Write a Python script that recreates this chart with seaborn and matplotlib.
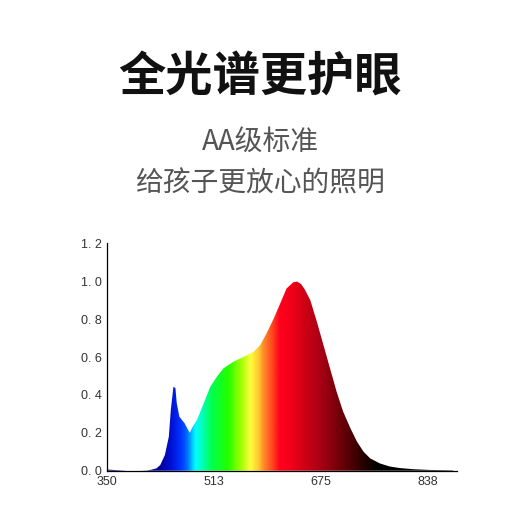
import numpy as np
import pandas as pd
import matplotlib
matplotlib.use("Agg")
import matplotlib.pyplot as plt
import seaborn as sns
from matplotlib.colors import LinearSegmentedColormap

# ---- data ----
wavelength = [350, 360, 370, 380, 400, 410, 416, 425, 431, 438, 444, 447, 451, 454, 456,
              460, 464, 468, 472, 476, 479, 487, 497, 507, 517, 527, 542, 557, 573,
              583, 593, 603, 613, 623, 633, 639, 645, 651, 659, 669, 679, 689, 699,
              709, 720, 730, 740, 750, 765, 780, 795, 815, 840, 876]
intensity = [0.006, 0.004, 0.002, 0.0, 0.0, 0.001, 0.004, 0.012, 0.03, 0.083, 0.18, 0.32,
             0.443, 0.436, 0.357, 0.285, 0.267, 0.25, 0.224, 0.2, 0.224, 0.27, 0.356,
             0.443, 0.496, 0.54, 0.575, 0.60, 0.628, 0.663, 0.728, 0.800, 0.880, 0.962,
             0.994, 0.998, 0.985, 0.954, 0.90, 0.786, 0.663, 0.54, 0.417, 0.311, 0.224,
             0.153, 0.10, 0.065, 0.038, 0.022, 0.014, 0.008, 0.004, 0.002]
x_ticks = [350, 513, 675, 838]
y_ticks = [0.0, 0.2, 0.4, 0.6, 0.8, 1.0, 1.2]
y_tick_labels = ["0. 0", "0. 2", "0. 4", "0. 6", "0. 8", "1. 0", "1. 2"]
title = "全光谱更护眼"
subtitle1 = "AA级标准"
subtitle2 = "给孩子更放心的照明"

# spectrum colour stops (wavelength, colour)
color_stops = [(350, "#00006e"), (431, "#0000a0"), (446, "#0010d0"), (461, "#0030ff"),
               (470, "#0064ff"), (484, "#00ffff"), (495, "#00ffb4"), (508, "#00ff50"),
               (533, "#20ff00"), (552, "#96ff00"), (568, "#ffff3c"), (580, "#ffc832"),
               (588, "#ff8c28"), (603, "#ff3c1e"), (613, "#ff001e"), (628, "#f5001c"),
               (648, "#d20014"), (674, "#aa0014"), (700, "#78000a"), (730, "#3c0000"),
               (745, "#1e0000"), (762, "#000000"), (882, "#000000")]

x_min, x_max = 350, 882
y_min, y_max = 0.0, 1.2

df = pd.DataFrame({"wavelength": wavelength, "intensity": intensity})

sns.set_theme(style="white")
plt.rcParams["font.family"] = ["Noto Sans CJK SC", "DejaVu Sans"]

fig = plt.figure(figsize=(5.2, 5.2), dpi=100)
fig.patch.set_facecolor("white")
ax = fig.add_axes([107 / 520, 49.3 / 520, 350 / 520, 227.4 / 520])

sns.lineplot(data=df, x="wavelength", y="intensity", ax=ax, linewidth=0, color="black")

poly = ax.fill_between(df["wavelength"], df["intensity"], 0, color="none", linewidth=0)

span = x_max - x_min
cmap = LinearSegmentedColormap.from_list(
    "spectrum", [((w - x_min) / span, c) for w, c in color_stops])
grad = np.linspace(0, 1, 1000).reshape(1, -1)
im = ax.imshow(grad, cmap=cmap, aspect="auto", extent=[x_min, x_max, y_min, y_max],
               origin="lower", interpolation="bilinear", zorder=1)
path = poly.get_paths()[0]
im.set_clip_path(path, transform=ax.transData)

ax.set_xlim(x_min, x_max)
ax.set_ylim(y_min, y_max)
ax.set_xticks(x_ticks)
ax.set_xticklabels([str(t) for t in x_ticks])
ax.set_yticks(y_ticks)
ax.set_yticklabels(y_tick_labels)
ax.set_xlabel("")
ax.set_ylabel("")

for s in ["top", "right"]:
    ax.spines[s].set_visible(False)
for s in ["left", "bottom"]:
    ax.spines[s].set_color("black")
    ax.spines[s].set_linewidth(0.9)

ax.tick_params(axis="both", which="major", direction="out", length=2.5, width=0.8,
               color="black", pad=1, labelsize=9, labelcolor="#333333")
for lab in ax.get_xticklabels() + ax.get_yticklabels():
    lab.set_family(["Liberation Sans", "DejaVu Sans"])

fig.text(0.5, 1 - 78 / 520, title, ha="center", va="center", fontsize=34,
         fontweight="bold", color="#111111")
fig.text(0.5, 1 - 143 / 520, subtitle1, ha="center", va="center", fontsize=20,
         fontweight="medium", color="#555555")
fig.text(0.5, 1 - 183 / 520, subtitle2, ha="center", va="center", fontsize=20,
         fontweight="medium", color="#555555")

fig.savefig("out.png", dpi=100, facecolor="white")
